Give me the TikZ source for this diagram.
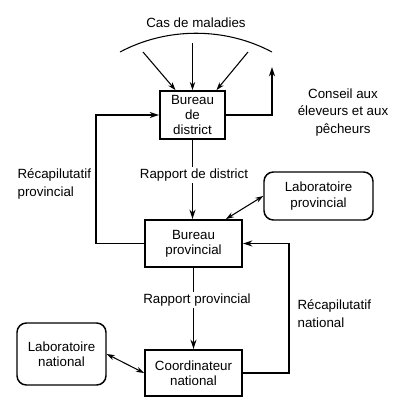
\documentclass[tikz,border=0pt]{standalone}
\usepackage{fontspec}
\setmainfont{Liberation Sans}
\usetikzlibrary{arrows.meta,calc}

\tikzset{
  office/.style={draw, line width=1.4pt, inner sep=0pt, align=center, font=\fontsize{10}{11.5}\selectfont},
  labbox/.style={office, rounded corners=7pt, line width=1.1pt},
  side/.style={inner sep=1pt, align=center, font=\fontsize{10}{13}\selectfont},
  flow/.style={line width=1.4pt, -{Stealth[length=7pt,width=4.5pt]}},
  feed/.style={line width=0.8pt, -{Stealth[length=6pt,width=4pt]}},
  both/.style={line width=0.8pt, {Stealth[length=6pt,width=4pt]}-{Stealth[length=6pt,width=4pt]}}
}

\begin{document}
\begin{tikzpicture}[x=0.75pt,y=0.75pt,yscale=-1,xscale=1]
  \useasboundingbox (0,0) rectangle (400,414);

  %Shape: Boxes
  \node[office, minimum width=48.75pt, minimum height=36pt] (district) at (192.5,115) {Bureau\\de\\district};
  \node[office, minimum width=72.75pt, minimum height=35.25pt] (provincial) at (193.5,243.5) {Bureau\\provincial};
  \node[office, minimum width=72.75pt, minimum height=34.5pt] (coordinator) at (193.5,373) {Coordinateur\\national};
  \node[labbox, minimum width=81.75pt, minimum height=36pt] (labprov) at (318.5,196) {Laboratoire\\provincial};
  \node[labbox, minimum width=66.75pt, minimum height=46.5pt] (labnat) at (61.5,354) {Laboratoire\\national};

  %Curve Lines: cases
  \draw[line width=0.8pt] (120,52) .. controls (167,27) and (225,27) .. (272,52);
  \coordinate (case1) at (143,52);
  \coordinate (case2) at (192.5,43);
  \coordinate (case3) at (248,52);
  \draw[feed] (case1) -- ($(district.north)+(-17,0)$);
  \draw[feed] (case2) -- (district.north);
  \draw[feed] (case3) -- ($(district.north)+(24,0)$);

  % Connectors
  \coordinate (advice) at (272,67);
  \draw[flow] (district.east) -| (advice);
  \draw[flow] (district.south) -- (district.south |- provincial.north);
  \draw[flow] (provincial.south) -- (provincial.south |- coordinator.north);
  \draw[flow] (provincial.west) -- ++(-48,0) |- (district.west);
  \draw[flow] (coordinator.east) -- ++(46,0) |- (provincial.east);
  \draw[both] ($(provincial.north east)+(-17,0)$) -- (labprov.west);
  \draw[both] (labnat.east) -- (coordinator.west);

  % Text Node
  \node[side] (cases) at (196,23) {Cas de maladies};
  % Text Node
  \node[side] (advicetext) at (343,112.5) {Conseil aux\\éleveurs et aux\\pêcheurs};
  % Text Node
  \node[side, anchor=west, align=left] (recprov) at (16,184) {Récapilutatif\\provincial};
  % Text Node
  \node[side, anchor=west, align=left] (recnat) at (296,313.5) {Récapilutatif\\national};
  % Text Node
  \node[side, fill=white] (repdist) at (194,175) {Rapport de district};
  % Text Node
  \node[side, fill=white] (repprov) at (197,300) {Rapport provincial};
\end{tikzpicture}
\end{document}
